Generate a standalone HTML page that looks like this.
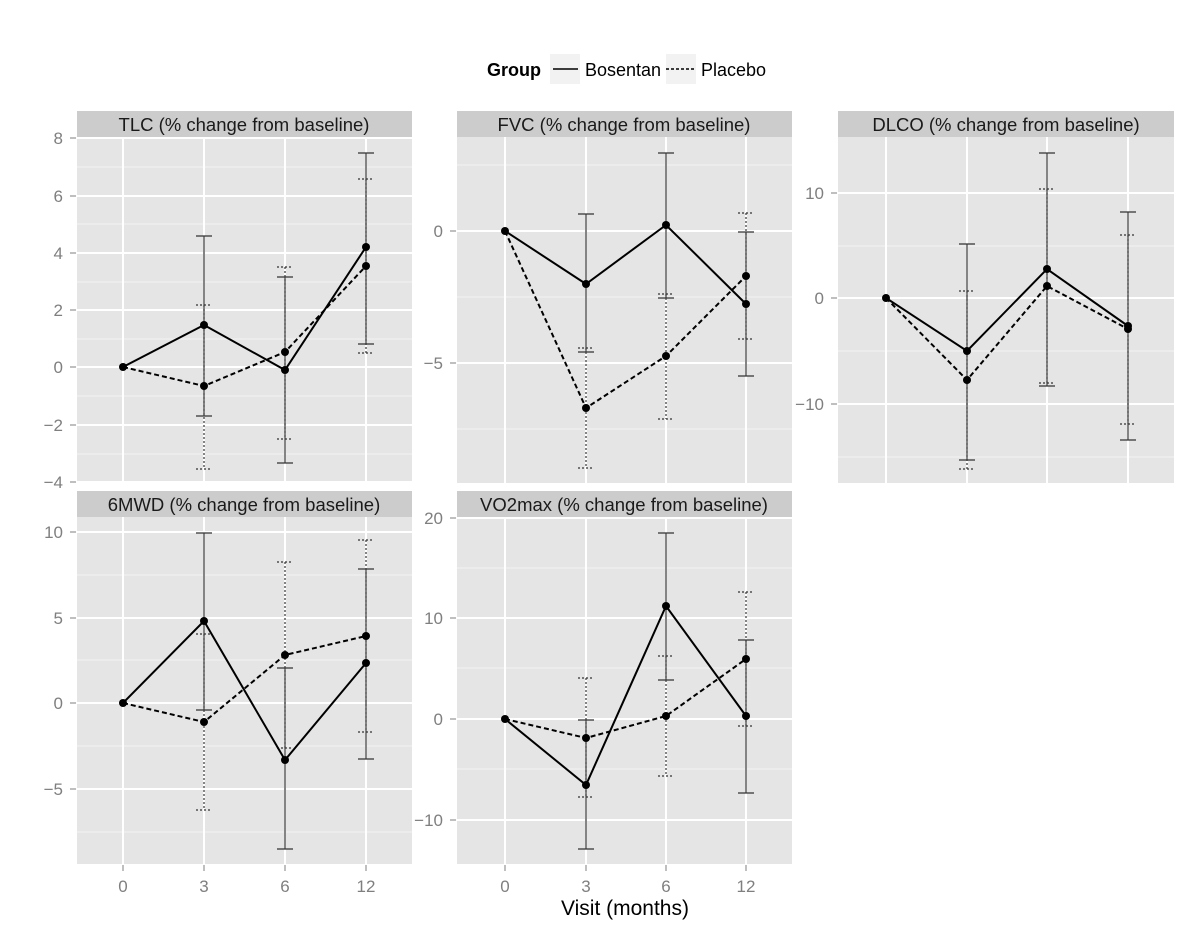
<!DOCTYPE html>
<html><head><meta charset="utf-8"><style>body{margin:0;background:#fff}svg{display:block}</style></head><body>
<svg width="1200" height="933" xmlns="http://www.w3.org/2000/svg" font-family="Liberation Sans, sans-serif">
<style>
.bg{fill:#e5e5e5}.strip{fill:#cccccc}
.mj{stroke:#fff;stroke-width:2}.mn{stroke:#f2f2f2;stroke-width:1}
.st{font-size:18.5px;fill:#1a1a1a;text-anchor:middle}
.yl{font-size:17px;fill:#7f7f7f;text-anchor:end}
.xl{font-size:17px;fill:#7f7f7f;text-anchor:middle}
.tk{stroke:#7f7f7f;stroke-width:1}
.b{stroke:#000;stroke-width:2;fill:none}
.p{stroke:#000;stroke-width:2;fill:none;stroke-dasharray:5,3}
.eb{stroke:#333;stroke-width:1.2;fill:none}
.ep{stroke:#333;stroke-width:1.2;fill:none;stroke-dasharray:2,2}
</style>
<!-- legend -->
<text x="487" y="76" font-size="18" font-weight="bold" fill="#000">Group</text>
<rect x="550" y="54" width="30" height="30" fill="#f2f2f2"/>
<line x1="553" y1="69" x2="578" y2="69" stroke="#000" stroke-width="1.6"/>
<text x="585" y="76" font-size="18" fill="#000">Bosentan</text>
<rect x="666" y="54" width="30" height="30" fill="#f2f2f2"/>
<line x1="666" y1="69" x2="694" y2="69" stroke="#000" stroke-width="1.6" stroke-dasharray="3,2"/>
<text x="701" y="76" font-size="18" fill="#000">Placebo</text>

<!-- Panel 1 TLC -->
<rect class="strip" x="77" y="111" width="335" height="26"/>
<text class="st" x="244" y="131">TLC (% change from baseline)</text>
<rect class="bg" x="77" y="137" width="335" height="346"/>
<g class="mn"><line x1="77" x2="412" y1="167" y2="167"/><line x1="77" x2="412" y1="224" y2="224"/><line x1="77" x2="412" y1="282" y2="282"/><line x1="77" x2="412" y1="339" y2="339"/><line x1="77" x2="412" y1="396" y2="396"/><line x1="77" x2="412" y1="454" y2="454"/></g>
<g class="mj"><line x1="77" x2="412" y1="138" y2="138"/><line x1="77" x2="412" y1="196" y2="196"/><line x1="77" x2="412" y1="253" y2="253"/><line x1="77" x2="412" y1="310" y2="310"/><line x1="77" x2="412" y1="367" y2="367"/><line x1="77" x2="412" y1="425" y2="425"/><line x1="77" x2="412" y1="482" y2="482"/>
<line x1="123" x2="123" y1="137" y2="483"/><line x1="204" x2="204" y1="137" y2="483"/><line x1="285" x2="285" y1="137" y2="483"/><line x1="366" x2="366" y1="137" y2="483"/></g>
<g class="yl"><text x="63" y="144">8</text><text x="63" y="202">6</text><text x="63" y="259">4</text><text x="63" y="316">2</text><text x="63" y="373">0</text><text x="63" y="431">−2</text><text x="63" y="488">−4</text></g>
<g class="tk"><line x1="70" x2="76" y1="138" y2="138"/><line x1="70" x2="76" y1="196" y2="196"/><line x1="70" x2="76" y1="253" y2="253"/><line x1="70" x2="76" y1="310" y2="310"/><line x1="70" x2="76" y1="367" y2="367"/><line x1="70" x2="76" y1="425" y2="425"/><line x1="70" x2="76" y1="482" y2="482"/></g>
<path class="eb" d="M196 236H212M204 236V416M196 416H212 M277 277H293M285 277V463M277 463H293 M358 153H374M366 153V344M358 344H374"/>
<path class="ep" d="M196 305H212M204 305V469M196 469H212 M277 267H293M285 267V439M277 439H293 M358 179H374M366 179V353M358 353H374"/>
<polyline class="b" points="123,367 204,325 285,370 366,247"/>
<polyline class="p" points="123,367 204,386 285,352 366,266"/>
<g fill="#000"><circle cx="123" cy="367" r="4"/><circle cx="204" cy="325" r="4"/><circle cx="285" cy="370" r="4"/><circle cx="366" cy="247" r="4"/><circle cx="204" cy="386" r="4"/><circle cx="285" cy="352" r="4"/><circle cx="366" cy="266" r="4"/></g>

<!-- Panel 2 FVC -->
<rect class="strip" x="457" y="111" width="335" height="26"/>
<text class="st" x="624" y="131">FVC (% change from baseline)</text>
<rect class="bg" x="457" y="137" width="335" height="346"/>
<g class="mn"><line x1="457" x2="792" y1="165" y2="165"/><line x1="457" x2="792" y1="297" y2="297"/><line x1="457" x2="792" y1="429" y2="429"/></g>
<g class="mj"><line x1="457" x2="792" y1="231" y2="231"/><line x1="457" x2="792" y1="363" y2="363"/>
<line x1="505" x2="505" y1="137" y2="483"/><line x1="586" x2="586" y1="137" y2="483"/><line x1="666" x2="666" y1="137" y2="483"/><line x1="746" x2="746" y1="137" y2="483"/></g>
<g class="yl"><text x="443" y="237">0</text><text x="443" y="369">−5</text></g>
<g class="tk"><line x1="450" x2="456" y1="231" y2="231"/><line x1="450" x2="456" y1="363" y2="363"/></g>
<path class="eb" d="M578 214H594M586 214V352M578 352H594 M658 153H674M666 153V298M658 298H674 M738 232H754M746 232V376M738 376H754"/>
<path class="ep" d="M578 348H594M586 348V468M578 468H594 M658 294H674M666 294V419M658 419H674 M738 213H754M746 213V339M738 339H754"/>
<polyline class="b" points="505,231 586,284 666,225 746,304"/>
<polyline class="p" points="505,231 586,408 666,356 746,276"/>
<g fill="#000"><circle cx="505" cy="231" r="4"/><circle cx="586" cy="284" r="4"/><circle cx="666" cy="225" r="4"/><circle cx="746" cy="304" r="4"/><circle cx="586" cy="408" r="4"/><circle cx="666" cy="356" r="4"/><circle cx="746" cy="276" r="4"/></g>

<!-- Panel 3 DLCO -->
<rect class="strip" x="838" y="111" width="336" height="26"/>
<text class="st" x="1006" y="131">DLCO (% change from baseline)</text>
<rect class="bg" x="838" y="137" width="336" height="346"/>
<g class="mn"><line x1="838" x2="1174" y1="246" y2="246"/><line x1="838" x2="1174" y1="351" y2="351"/><line x1="838" x2="1174" y1="457" y2="457"/></g>
<g class="mj"><line x1="838" x2="1174" y1="193" y2="193"/><line x1="838" x2="1174" y1="298" y2="298"/><line x1="838" x2="1174" y1="404" y2="404"/>
<line x1="886" x2="886" y1="137" y2="483"/><line x1="967" x2="967" y1="137" y2="483"/><line x1="1047" x2="1047" y1="137" y2="483"/><line x1="1128" x2="1128" y1="137" y2="483"/></g>
<g class="yl"><text x="824" y="199">10</text><text x="824" y="304">0</text><text x="824" y="410">−10</text></g>
<g class="tk"><line x1="831" x2="837" y1="193" y2="193"/><line x1="831" x2="837" y1="298" y2="298"/><line x1="831" x2="837" y1="404" y2="404"/></g>
<path class="eb" d="M959 244H975M967 244V460M959 460H975 M1039 153H1055M1047 153V386M1039 386H1055 M1120 212H1136M1128 212V440M1120 440H1136"/>
<path class="ep" d="M959 291H975M967 291V469M959 469H975 M1039 189H1055M1047 189V383M1039 383H1055 M1120 235H1136M1128 235V424M1120 424H1136"/>
<polyline class="b" points="886,298 967,351 1047,269 1128,326"/>
<polyline class="p" points="886,298 967,380 1047,286 1128,329"/>
<g fill="#000"><circle cx="886" cy="298" r="4"/><circle cx="967" cy="351" r="4"/><circle cx="1047" cy="269" r="4"/><circle cx="1128" cy="326" r="4"/><circle cx="967" cy="380" r="4"/><circle cx="1047" cy="286" r="4"/><circle cx="1128" cy="329" r="4"/></g>

<!-- Panel 4 6MWD -->
<rect class="strip" x="77" y="491" width="335" height="26"/>
<text class="st" x="244" y="511">6MWD (% change from baseline)</text>
<rect class="bg" x="77" y="517" width="335" height="347"/>
<g class="mn"><line x1="77" x2="412" y1="575" y2="575"/><line x1="77" x2="412" y1="660" y2="660"/><line x1="77" x2="412" y1="746" y2="746"/><line x1="77" x2="412" y1="832" y2="832"/></g>
<g class="mj"><line x1="77" x2="412" y1="532" y2="532"/><line x1="77" x2="412" y1="618" y2="618"/><line x1="77" x2="412" y1="703" y2="703"/><line x1="77" x2="412" y1="789" y2="789"/>
<line x1="123" x2="123" y1="517" y2="864"/><line x1="204" x2="204" y1="517" y2="864"/><line x1="285" x2="285" y1="517" y2="864"/><line x1="366" x2="366" y1="517" y2="864"/></g>
<g class="yl"><text x="63" y="538">10</text><text x="63" y="624">5</text><text x="63" y="709">0</text><text x="63" y="795">−5</text></g>
<g class="tk"><line x1="70" x2="76" y1="532" y2="532"/><line x1="70" x2="76" y1="618" y2="618"/><line x1="70" x2="76" y1="703" y2="703"/><line x1="70" x2="76" y1="789" y2="789"/>
<line x1="123" x2="123" y1="865" y2="871"/><line x1="204" x2="204" y1="865" y2="871"/><line x1="285" x2="285" y1="865" y2="871"/><line x1="366" x2="366" y1="865" y2="871"/></g>
<g class="xl"><text x="123" y="892">0</text><text x="204" y="892">3</text><text x="285" y="892">6</text><text x="366" y="892">12</text></g>
<path class="eb" d="M196 533H212M204 533V710M196 710H212 M277 668H293M285 668V849M277 849H293 M358 569H374M366 569V759M358 759H374"/>
<path class="ep" d="M196 634H212M204 634V810M196 810H212 M277 562H293M285 562V748M277 748H293 M358 540H374M366 540V732M358 732H374"/>
<polyline class="b" points="123,703 204,621 285,760 366,663"/>
<polyline class="p" points="123,703 204,722 285,655 366,636"/>
<g fill="#000"><circle cx="123" cy="703" r="4"/><circle cx="204" cy="621" r="4"/><circle cx="285" cy="760" r="4"/><circle cx="366" cy="663" r="4"/><circle cx="204" cy="722" r="4"/><circle cx="285" cy="655" r="4"/><circle cx="366" cy="636" r="4"/></g>

<!-- Panel 5 VO2max -->
<rect class="strip" x="457" y="491" width="335" height="26"/>
<text class="st" x="624" y="511">VO2max (% change from baseline)</text>
<rect class="bg" x="457" y="517" width="335" height="347"/>
<g class="mn"><line x1="457" x2="792" y1="568" y2="568"/><line x1="457" x2="792" y1="668" y2="668"/><line x1="457" x2="792" y1="769" y2="769"/></g>
<g class="mj"><line x1="457" x2="792" y1="518" y2="518"/><line x1="457" x2="792" y1="618" y2="618"/><line x1="457" x2="792" y1="719" y2="719"/><line x1="457" x2="792" y1="820" y2="820"/>
<line x1="505" x2="505" y1="517" y2="864"/><line x1="586" x2="586" y1="517" y2="864"/><line x1="666" x2="666" y1="517" y2="864"/><line x1="746" x2="746" y1="517" y2="864"/></g>
<g class="yl"><text x="443" y="524">20</text><text x="443" y="624">10</text><text x="443" y="725">0</text><text x="443" y="826">−10</text></g>
<g class="tk"><line x1="450" x2="456" y1="518" y2="518"/><line x1="450" x2="456" y1="618" y2="618"/><line x1="450" x2="456" y1="719" y2="719"/><line x1="450" x2="456" y1="820" y2="820"/>
<line x1="505" x2="505" y1="865" y2="871"/><line x1="586" x2="586" y1="865" y2="871"/><line x1="666" x2="666" y1="865" y2="871"/><line x1="746" x2="746" y1="865" y2="871"/></g>
<g class="xl"><text x="505" y="892">0</text><text x="586" y="892">3</text><text x="666" y="892">6</text><text x="746" y="892">12</text></g>
<path class="eb" d="M578 720H594M586 720V849M578 849H594 M658 533H674M666 533V680M658 680H674 M738 640H754M746 640V793M738 793H754"/>
<path class="ep" d="M578 678H594M586 678V797M578 797H594 M658 656H674M666 656V776M658 776H674 M738 592H754M746 592V726M738 726H754"/>
<polyline class="b" points="505,719 586,785 666,606 746,716"/>
<polyline class="p" points="505,719 586,738 666,716 746,659"/>
<g fill="#000"><circle cx="505" cy="719" r="4"/><circle cx="586" cy="785" r="4"/><circle cx="666" cy="606" r="4"/><circle cx="746" cy="716" r="4"/><circle cx="586" cy="738" r="4"/><circle cx="666" cy="716" r="4"/><circle cx="746" cy="659" r="4"/></g>

<text x="625" y="915" font-size="21" fill="#000" text-anchor="middle">Visit (months)</text>
</svg>
</body></html>
